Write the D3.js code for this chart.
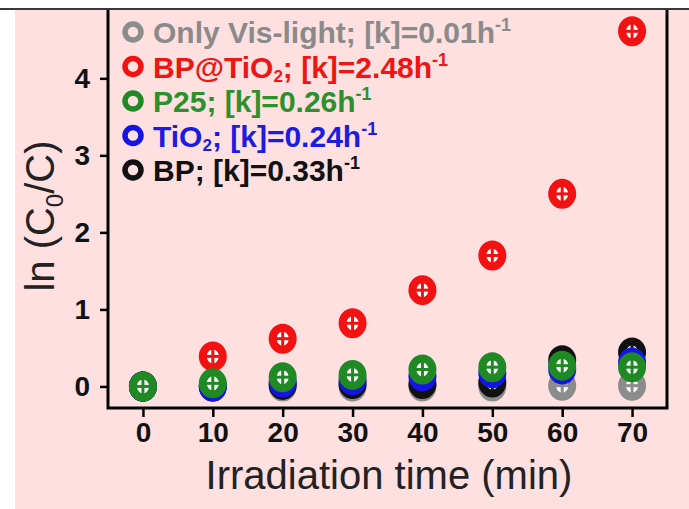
<!DOCTYPE html>
<html>
<head>
<meta charset="utf-8">
<script src="https://cdn.jsdelivr.net/npm/d3@7"></script>
<style>
  body { margin: 0; background: #fff; }
  svg { display: block; }
</style>
</head>
<body>
<svg id="chart" width="689" height="509"></svg>
<script>
// Irradiation times (min)
const times = [0, 10, 20, 30, 40, 50, 60, 70];

// ln(C0/C) for each sample
const onlyVis = [0, 0.00, 0.00, 0.00, 0.00, 0.00, 0.01, 0.01];
const bpTiO2  = [0, 0.39, 0.62, 0.82, 1.25, 1.70, 2.50, 4.61];
const p25     = [0, 0.04, 0.12, 0.15, 0.22, 0.25, 0.27, 0.25];
const tio2    = [0, 0.00, 0.05, 0.08, 0.13, 0.17, 0.22, 0.31];
const bp      = [0, 0.00, 0.02, 0.03, 0.03, 0.05, 0.34, 0.44];

// Legend entries: label pieces and rate constants
const seriesNames = ["Only Vis-light", "BP@TiO2", "P25", "TiO2", "BP"];
const rateK       = ["0.01", "2.48", "0.26", "0.24", "0.33"];

const xTicks = [0, 10, 20, 30, 40, 50, 60, 70];
const yTicks = [0, 1, 2, 3, 4];

const seriesValues = [onlyVis, bpTiO2, p25, tio2, bp];
const markerColors = ["#8c8c8c", "#f21212", "#1f8a24", "#1414e6", "#111111"];
const textColors   = ["#8a8a8a", "#ee1515", "#2c902c", "#1c1ce0", "#111111"];
// drawing order (back to front)
const drawOrder = [0, 1, 4, 3, 2];

const svg = d3.select("#chart");
const W = 689, H = 509;
const font = "'Liberation Sans', Arial, Helvetica, sans-serif";

// page background
svg.append("rect").attr("x", 0).attr("y", 0).attr("width", W).attr("height", H).attr("fill", "#ffffff");
svg.append("rect").attr("x", 15).attr("y", 10).attr("width", W - 15).attr("height", H - 10).attr("fill", "#fde0df");
svg.append("line").attr("x1", 0).attr("x2", W).attr("y1", 9).attr("y2", 9)
  .attr("stroke", "#3a3a3a").attr("stroke-width", 2);

const plot = { left: 108, right: 667, top: 10, bottom: 408 };

const x = d3.scaleLinear().domain([-5, 75]).range([plot.left, plot.right]);
const y = d3.scaleLinear().domain([-0.28, 4.9]).range([plot.bottom, 9]);

// axes
const xAxis = svg.append("g")
  .attr("transform", `translate(0,${plot.bottom})`)
  .call(d3.axisBottom(x).tickValues(xTicks).tickSize(9).tickPadding(5).tickFormat(d3.format("d")));
const yAxis = svg.append("g")
  .attr("transform", `translate(${plot.left},0)`)
  .call(d3.axisLeft(y).tickValues(yTicks).tickSize(8).tickPadding(10).tickFormat(d3.format("d")));

[xAxis, yAxis].forEach(g => {
  g.select(".domain").remove();
  g.selectAll(".tick line").attr("stroke", "#000").attr("stroke-width", 2.5);
  g.selectAll(".tick text")
    .attr("fill", "#111")
    .style("font-family", font)
    .style("font-weight", "bold")
    .style("font-size", "28px");
});

// frame (left, bottom, right)
svg.append("path")
  .attr("d", `M${plot.left},${plot.top} V${plot.bottom} H${plot.right} V${plot.top}`)
  .attr("fill", "none").attr("stroke", "#000").attr("stroke-width", 3);

// markers: thick ring with a cross through the hole
function drawMarker(g, cx, cy, color) {
  g.append("ellipse").attr("cx", cx).attr("cy", cy).attr("rx", 10).attr("ry", 11)
    .attr("fill", "#ffffff").attr("stroke", color).attr("stroke-width", 8);
  g.append("line").attr("x1", cx - 7).attr("x2", cx + 7).attr("y1", cy).attr("y2", cy)
    .attr("stroke", color).attr("stroke-width", 3);
  g.append("line").attr("x1", cx).attr("x2", cx).attr("y1", cy - 8).attr("y2", cy + 8)
    .attr("stroke", color).attr("stroke-width", 3);
}

const marks = svg.append("g");
drawOrder.forEach(si => {
  const g = marks.append("g");
  seriesValues[si].forEach((v, i) => drawMarker(g, x(times[i]), y(v), markerColors[si]));
});

// legend
const legend = svg.append("g");
const legendX = 133, legendY0 = 32, legendStep = 34.5;
seriesNames.forEach((name, i) => {
  const cy = legendY0 + i * legendStep;
  legend.append("circle").attr("cx", legendX).attr("cy", cy).attr("r", 8)
    .attr("fill", "none").attr("stroke", markerColors[i]).attr("stroke-width", 5.5);
  const t = legend.append("text")
    .attr("x", legendX + 20).attr("y", cy + 11)
    .attr("fill", textColors[i])
    .style("font-family", font).style("font-weight", "bold").style("font-size", "30px");
  const m = name.match(/^(.*TiO)2$/);
  if (m) {
    t.append("tspan").text(m[1]);
    t.append("tspan").attr("dy", 4).style("font-size", "17px").text("2");
    t.append("tspan").attr("dy", -4).text("; [k]=" + rateK[i] + "h");
  } else {
    t.append("tspan").text(name + "; [k]=" + rateK[i] + "h");
  }
  t.append("tspan").attr("dy", -12).style("font-size", "18px").text("-1");
});

// axis titles
svg.append("text")
  .attr("x", 389).attr("y", 489)
  .attr("text-anchor", "middle")
  .attr("fill", "#222")
  .style("font-family", font).style("font-size", "40px")
  .text("Irradiation time (min)");

const yt = svg.append("text")
  .attr("transform", "translate(54,216) rotate(-90)")
  .attr("text-anchor", "middle")
  .attr("fill", "#222")
  .style("font-family", font).style("font-size", "40px");
yt.append("tspan").text("ln (C");
yt.append("tspan").attr("dy", 9).style("font-size", "24px").text("0");
yt.append("tspan").attr("dy", -9).text("/C)");
</script>
</body>
</html>
